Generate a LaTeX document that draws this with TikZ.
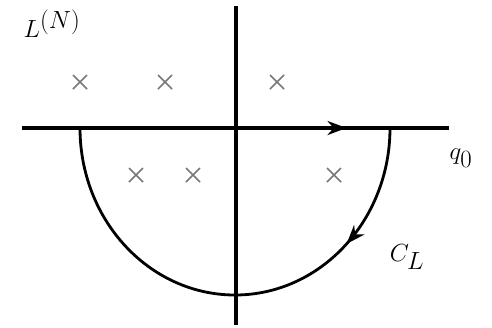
\documentclass[tikz,border=0pt]{standalone}
\usepackage{amsmath}
\usetikzlibrary{arrows.meta,decorations.markings,shapes.misc}
\definecolor{polecolor}{RGB}{120,120,120}

\tikzset{
  pole/.style={cross out,draw=polecolor,line width=1.6bp,minimum size=14bp,inner sep=0pt},
  axisline/.style={line width=4.2bp},
  tiplbl/.style={anchor=center,inner sep=0pt,outer sep=0pt,font=\fontsize{33bp}{40bp}\selectfont},
  midarrow/.style={postaction={decorate},decoration={markings,
    mark=at position #1 with {\arrow{Stealth[length=19bp,width=14bp]}}}}
}

\begin{document}
\begin{tikzpicture}[x=1bp,y=-1bp,inner sep=0pt,outer sep=0pt]
  \useasboundingbox (0,0) rectangle (492,327);
  % axes
  \coordinate (xleft) at (22,128);
  \coordinate (xright) at (449,128);
  \coordinate (ytop) at (236,6);
  \coordinate (ybot) at (236,325);
  \draw[axisline] (ytop) -- (ybot);
  \draw[axisline,midarrow=0.76] (xleft) -- (xright);
  % contour C_L
  \coordinate (arcstart) at (390,128);
  \draw[line width=2.8bp,midarrow=0.25] (arcstart) arc[start angle=0,end angle=180,x radius=155,y radius=167];
  % poles
  \node[pole] (p1) at (80,82) {};
  \node[pole] (p2) at (165,82) {};
  \node[pole] (p3) at (277,82) {};
  \node[pole] (p4) at (136,175) {};
  \node[pole] (p5) at (193,175) {};
  \node[pole] (p6) at (334,175) {};
  % labels
  \node[tiplbl] (lN) at (52,24) {$L^{(N)}$};
  \node[tiplbl] (q0) at (461,158) {$q_0$};
  \node[tiplbl] (cL) at (407,257) {$C_L$};
\end{tikzpicture}
\end{document}
